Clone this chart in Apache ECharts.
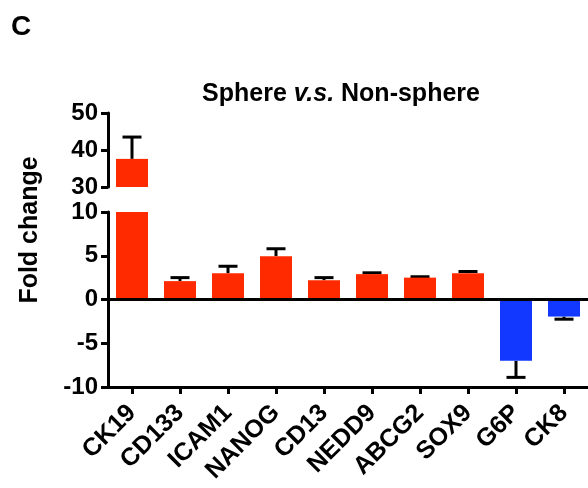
<!DOCTYPE html>
<html>
<head>
<meta charset="utf-8">
<script src="https://cdn.jsdelivr.net/npm/echarts@6/dist/echarts.min.js"></script>
<style>
  html, body { margin: 0; padding: 0; background: #fff; }
  #chart { width: 588px; height: 488px; }
</style>
</head>
<body>
<div id="chart"></div>
<script>
// 数据
const genes = ['CK19', 'CD133', 'ICAM1', 'NANOG', 'CD13', 'NEDD9', 'ABCG2', 'SOX9', 'G6P', 'CK8'];
const foldChange = [37.6, 2.1, 3.0, 4.95, 2.2, 2.9, 2.5, 3.0, -7.0, -1.95];
// error bar end (mean + SEM, away from zero)
const errEnd = [43.5, 2.5, 3.8, 5.8, 2.5, 3.05, 2.6, 3.2, -8.9, -2.25];
const upperTicks = [30, 50, 10];   // min, max, interval
const lowerTicks = [-10, 10, 5];

const RED = '#ff2a00';
const BLUE = '#1238ff';
const font = 'Liberation Sans, Arial, sans-serif';

const barColor = (p) => (p.value >= 0 ? RED : BLUE);

// 误差线
const errRender = (params, api) => {
  const x = api.value(0);
  const base = api.coord([x, api.value(1)]);
  const end = api.coord([x, api.value(2)]);
  const half = 9.5;
  const style = { stroke: '#000', lineWidth: 3 };
  return {
    type: 'group',
    children: [
      { type: 'line', shape: { x1: base[0], y1: base[1], x2: end[0], y2: end[1] }, style },
      { type: 'line', shape: { x1: end[0] - half, y1: end[1], x2: end[0] + half, y2: end[1] }, style },
    ],
  };
};

const upperErr = [];
const lowerErr = [];
genes.forEach((g, i) => {
  if (foldChange[i] > upperTicks[0]) upperErr.push([i, foldChange[i], errEnd[i]]);
  else lowerErr.push([i, foldChange[i], errEnd[i]]);
});

const axisLine = { show: true, lineStyle: { color: '#000', width: 3 } };
const axisTick = { show: true, length: 7, lineStyle: { color: '#000', width: 3 } };
const tickLabel = { color: '#000', fontWeight: 'bold', fontSize: 24, fontFamily: font, margin: 10 };

const chart = echarts.init(document.getElementById('chart'));
chart.setOption({
  animation: false,
  title: {
    text: '{b|Sphere }{i|v.s.}{b| Non-sphere}',
    left: 336,
    top: 77,
    textAlign: 'center',
    textStyle: {
      rich: {
        b: { fontSize: 25, fontWeight: 'bold', fontFamily: font, color: '#000' },
        i: { fontSize: 25, fontWeight: 'bold', fontStyle: 'italic', fontFamily: font, color: '#000' },
      },
    },
  },
  graphic: [
    {
      type: 'text', left: 11, top: 13,
      style: { text: 'C', font: 'bold 28px ' + font, fill: '#000' },
    },
    {
      type: 'text', x: 18, y: 230, rotation: Math.PI / 2,
      style: { text: 'Fold change', font: 'bold 25px ' + font, fill: '#000', align: 'center', verticalAlign: 'top' },
    },
  ],
  grid: [
    { left: 108, right: -2, top: 113, height: 74 },
    { left: 108, right: -2, top: 212, bottom: 101 },
  ],
  xAxis: [
    { type: 'category', gridIndex: 0, data: genes, show: false },
    {
      type: 'category', gridIndex: 1, data: genes,
      axisLine: { ...axisLine, onZero: false },
      axisTick: { ...axisTick, alignWithLabel: true, interval: 0 },
      axisLabel: { ...tickLabel, fontSize: 25, rotate: 45, interval: 0, margin: 22 },
    },
  ],
  yAxis: [
    {
      type: 'value', gridIndex: 0, min: upperTicks[0], max: upperTicks[1], interval: upperTicks[2],
      splitLine: { show: false }, axisLine, axisTick, axisLabel: tickLabel,
    },
    {
      type: 'value', gridIndex: 1, min: lowerTicks[0], max: lowerTicks[1], interval: lowerTicks[2],
      splitLine: { show: false }, axisLine, axisTick, axisLabel: tickLabel,
    },
  ],
  series: [
    {
      type: 'bar', xAxisIndex: 0, yAxisIndex: 0, barWidth: 32, clip: true,
      data: foldChange.map((v) => (v > upperTicks[0] ? v : '-')),
      itemStyle: { color: barColor },
    },
    {
      type: 'bar', xAxisIndex: 1, yAxisIndex: 1, barWidth: 32, clip: true,
      data: foldChange,
      itemStyle: { color: barColor },
      markLine: {
        silent: true, symbol: 'none', label: { show: false },
        lineStyle: { color: '#000', width: 3, type: 'solid' },
        data: [{ yAxis: 0 }],
      },
    },
    { type: 'custom', xAxisIndex: 0, yAxisIndex: 0, renderItem: errRender, data: upperErr, z: 1 },
    { type: 'custom', xAxisIndex: 1, yAxisIndex: 1, renderItem: errRender, data: lowerErr, z: 1 },
  ],
});
</script>
</body>
</html>
